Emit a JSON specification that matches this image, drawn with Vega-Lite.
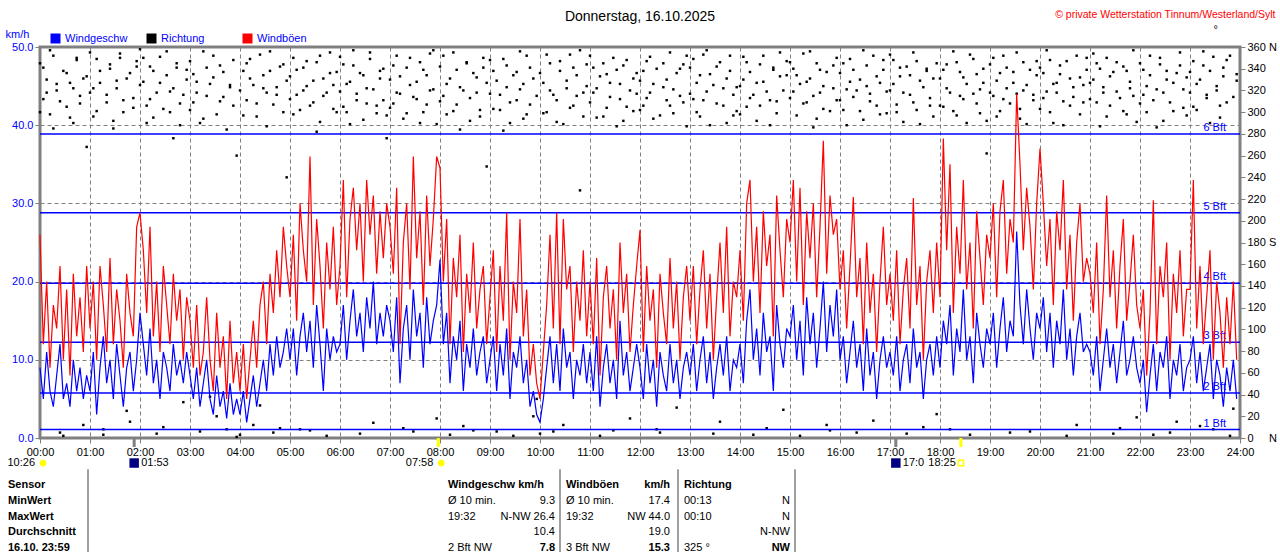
{
  "$schema": "https://vega.github.io/schema/vega-lite/v6.json",
  "width": 1200,
  "height": 391,
  "autosize": {"type": "none"},
  "padding": {"left": 40, "top": 47, "right": 40, "bottom": 114},
  "background": "white",
  "config": {
    "font": "Liberation Sans",
    "view": {"stroke": "#808080", "strokeWidth": 3},
    "text": {"font": "Liberation Sans"}
  },
  "title": {
    "text": "Donnerstag, 16.10.2025",
    "fontSize": 14,
    "fontWeight": "normal",
    "color": "black",
    "anchor": "middle",
    "frame": "group",
    "offset": 0,
    "dy": 15
  },
  "datasets": {
    "wind": [
      {"t":0,"w":9,"g":26,"d":345,"e":300},
      {"t":4,"w":5,"g":12,"d":312,"e":341},
      {"t":8,"w":11,"g":20,"d":330,"e":318},
      {"t":12,"w":6,"g":9,"d":298,"e":357},
      {"t":16,"w":4,"g":17,"d":352,"e":285},
      {"t":20,"w":8,"g":14,"d":320,"e":326},
      {"t":24,"w":12,"g":22,"d":5,"e":310},
      {"t":28,"w":5,"g":10,"d":338,"e":2},
      {"t":32,"w":7,"g":19,"d":305,"e":336},
      {"t":36,"w":4,"g":8,"d":327,"e":295},
      {"t":40,"w":10,"g":21,"d":290,"e":322},
      {"t":44,"w":6,"g":13,"d":348,"e":350},
      {"t":48,"w":9,"g":18,"d":315,"e":308},
      {"t":52,"w":5,"g":11,"d":12,"e":331},
      {"t":56,"w":8,"g":22,"d":333,"e":268},
      {"t":60,"w":6,"g":14,"d":355,"e":318},
      {"t":64,"w":11,"g":20,"d":322,"e":296},
      {"t":68,"w":3,"g":10,"d":301,"e":349},
      {"t":72,"w":9,"g":22,"d":338,"e":327},
      {"t":76,"w":13,"g":17,"d":8,"e":3},
      {"t":80,"w":7,"g":11,"d":316,"e":309},
      {"t":84,"w":10,"g":23,"d":344,"e":340},
      {"t":88,"w":5,"g":12,"d":292,"e":285},
      {"t":92,"w":12,"g":19,"d":329,"e":322},
      {"t":96,"w":8,"g":15,"d":350,"e":354},
      {"t":100,"w":4,"g":9,"d":311,"e":300},
      {"t":104,"w":9,"g":21,"d":25,"e":331},
      {"t":108,"w":11,"g":16,"d":336,"e":15},
      {"t":112,"w":6,"g":13,"d":304,"e":313},
      {"t":116,"w":10,"g":27,"d":347,"e":342},
      {"t":120,"w":16,"g":28.8,"d":358,"e":325},
      {"t":124,"w":12,"g":24,"d":328,"e":350},
      {"t":128,"w":8,"g":16,"d":306,"e":290},
      {"t":132,"w":14,"g":27,"d":342,"e":312},
      {"t":136,"w":7,"g":13,"d":295,"e":338},
      {"t":140,"w":10,"g":20,"d":318,"e":4},
      {"t":144,"w":5,"g":11,"d":351,"e":327},
      {"t":148,"w":11,"g":22,"d":10,"e":303},
      {"t":152,"w":9,"g":17,"d":334,"e":356},
      {"t":156,"w":6,"g":12,"d":300,"e":319},
      {"t":160,"w":12,"g":21,"d":322,"e":276},
      {"t":164,"w":8,"g":15,"d":345,"e":341},
      {"t":168,"w":10,"g":19,"d":288,"e":308},
      {"t":172,"w":7,"g":10,"d":316,"e":33},
      {"t":176,"w":11,"g":18,"d":339,"e":330},
      {"t":180,"w":8,"g":15,"d":302,"e":347},
      {"t":184,"w":5,"g":9,"d":335,"e":309},
      {"t":188,"w":9,"g":17,"d":318,"e":328},
      {"t":192,"w":4,"g":8,"d":6,"e":290},
      {"t":196,"w":7,"g":11,"d":294,"e":356},
      {"t":200,"w":10,"g":18,"d":341,"e":315},
      {"t":204,"w":5,"g":10,"d":326,"e":38},
      {"t":208,"w":3,"g":6,"d":352,"e":332},
      {"t":212,"w":8,"g":16,"d":20,"e":298},
      {"t":216,"w":4,"g":9,"d":310,"e":343},
      {"t":220,"w":6,"g":13,"d":337,"e":314},
      {"t":224,"w":2.5,"g":5,"d":284,"e":8},
      {"t":228,"w":7,"g":15,"d":323,"e":325},
      {"t":232,"w":3,"g":7,"d":348,"e":306},
      {"t":236,"w":5,"g":11,"d":1,"e":260},
      {"t":240,"w":3,"g":6,"d":320,"e":3},
      {"t":244,"w":6,"g":12,"d":297,"e":338},
      {"t":248,"w":2,"g":5,"d":345,"e":311},
      {"t":252,"w":5,"g":10,"d":331,"e":349},
      {"t":256,"w":8,"g":15,"d":12,"e":325},
      {"t":260,"w":4,"g":9,"d":308,"e":296},
      {"t":264,"w":7,"g":17,"d":353,"e":30},
      {"t":268,"w":10,"g":20,"d":322,"e":334},
      {"t":272,"w":6,"g":12,"d":287,"e":318},
      {"t":276,"w":12,"g":21,"d":338,"e":356},
      {"t":280,"w":8,"g":16,"d":5,"e":307},
      {"t":284,"w":13,"g":24,"d":316,"e":323},
      {"t":288,"w":9,"g":18,"d":342,"e":9},
      {"t":292,"w":11,"g":27,"d":300,"e":344},
      {"t":296,"w":14,"g":22,"d":329,"e":240},
      {"t":300,"w":10,"g":18,"d":333,"e":312},
      {"t":304,"w":14,"g":26,"d":350,"e":298},
      {"t":308,"w":8,"g":15,"d":316,"e":339},
      {"t":312,"w":13,"g":30,"d":302,"e":8},
      {"t":316,"w":16,"g":24,"d":341,"e":320},
      {"t":320,"w":11,"g":20,"d":324,"e":347},
      {"t":324,"w":15,"g":36,"d":7,"e":306},
      {"t":328,"w":9,"g":17,"d":309,"e":329},
      {"t":332,"w":17,"g":28,"d":346,"e":282},
      {"t":336,"w":12,"g":22,"d":291,"e":352},
      {"t":340,"w":6,"g":14,"d":331,"e":315},
      {"t":344,"w":14,"g":25,"d":318,"e":2},
      {"t":348,"w":10,"g":19,"d":355,"e":336},
      {"t":352,"w":13,"g":27,"d":303,"e":325},
      {"t":356,"w":11,"g":17,"d":337,"e":300},
      {"t":360,"w":12,"g":22,"d":319,"e":351},
      {"t":364,"w":17,"g":33,"d":344,"e":305},
      {"t":368,"w":10,"g":18,"d":300,"e":326},
      {"t":372,"w":15,"g":28,"d":328,"e":289},
      {"t":376,"w":19,"g":32,"d":357,"e":343},
      {"t":380,"w":13,"g":24,"d":311,"e":317},
      {"t":384,"w":16,"g":30,"d":336,"e":4},
      {"t":388,"w":11,"g":20,"d":293,"e":334},
      {"t":392,"w":18,"g":33,"d":322,"e":308},
      {"t":396,"w":14,"g":26,"d":349,"e":355},
      {"t":400,"w":20,"g":31,"d":14,"e":321},
      {"t":404,"w":12,"g":21,"d":306,"e":299},
      {"t":408,"w":16,"g":29,"d":331,"e":338},
      {"t":412,"w":13,"g":23,"d":340,"e":311},
      {"t":416,"w":17,"g":30,"d":297,"e":276},
      {"t":420,"w":15,"g":27,"d":330,"e":304},
      {"t":424,"w":11,"g":21,"d":308,"e":343},
      {"t":428,"w":18,"g":32,"d":352,"e":318},
      {"t":432,"w":7,"g":12,"d":317,"e":333},
      {"t":436,"w":14,"g":25,"d":294,"e":9},
      {"t":440,"w":17,"g":30,"d":341,"e":299},
      {"t":444,"w":10,"g":19,"d":325,"e":350},
      {"t":448,"w":19,"g":36,"d":6,"e":314},
      {"t":452,"w":13,"g":23,"d":312,"e":328},
      {"t":456,"w":16,"g":29,"d":346,"e":290},
      {"t":460,"w":9,"g":17,"d":300,"e":339},
      {"t":464,"w":18,"g":31,"d":334,"e":307},
      {"t":468,"w":12,"g":22,"d":320,"e":354},
      {"t":472,"w":15,"g":28,"d":357,"e":321},
      {"t":476,"w":17,"g":36,"d":289,"e":18},
      {"t":480,"w":22.8,"g":34.5,"d":342,"e":310},
      {"t":484,"w":12,"g":20,"d":315,"e":352},
      {"t":488,"w":16,"g":28,"d":298,"e":326},
      {"t":492,"w":7,"g":12,"d":331,"e":3},
      {"t":496,"w":13,"g":23,"d":355,"e":301},
      {"t":500,"w":10,"g":18,"d":307,"e":339},
      {"t":504,"w":15,"g":26,"d":323,"e":284},
      {"t":508,"w":6,"g":11,"d":11,"e":320},
      {"t":512,"w":12,"g":21,"d":345,"e":346},
      {"t":516,"w":9,"g":16,"d":292,"e":313},
      {"t":520,"w":14,"g":25,"d":336,"e":7},
      {"t":524,"w":8,"g":14,"d":318,"e":332},
      {"t":528,"w":11,"g":19,"d":302,"e":296},
      {"t":532,"w":13,"g":22,"d":350,"e":341},
      {"t":536,"w":7,"g":12,"d":327,"e":250},
      {"t":540,"w":10,"g":18,"d":317,"e":348},
      {"t":544,"w":13,"g":24,"d":338,"e":303},
      {"t":548,"w":6,"g":11,"d":6,"e":329},
      {"t":552,"w":12,"g":22,"d":302,"e":316},
      {"t":556,"w":8,"g":15,"d":349,"e":283},
      {"t":560,"w":14,"g":28.8,"d":323,"e":343},
      {"t":564,"w":5,"g":10,"d":290,"e":309},
      {"t":568,"w":11,"g":20,"d":334,"e":2},
      {"t":572,"w":9,"g":16,"d":311,"e":337},
      {"t":576,"w":13,"g":28,"d":356,"e":321},
      {"t":580,"w":7,"g":13,"d":326,"e":294},
      {"t":584,"w":10,"g":19,"d":298,"e":352},
      {"t":588,"w":4,"g":8,"d":341,"e":307},
      {"t":592,"w":6,"g":12,"d":20,"e":331},
      {"t":596,"w":3,"g":7,"d":315,"e":36},
      {"t":600,"w":2,"g":5,"d":4,"e":336},
      {"t":604,"w":5,"g":11,"d":327,"e":299},
      {"t":608,"w":9,"g":17,"d":300,"e":353},
      {"t":612,"w":13,"g":26,"d":345,"e":320},
      {"t":616,"w":7,"g":14,"d":316,"e":6},
      {"t":620,"w":12,"g":28.8,"d":291,"e":311},
      {"t":624,"w":6,"g":12,"d":338,"e":347},
      {"t":628,"w":14,"g":28,"d":12,"e":289},
      {"t":632,"w":9,"g":19,"d":322,"e":329},
      {"t":636,"w":11,"g":22,"d":353,"e":304},
      {"t":640,"w":5,"g":11,"d":306,"e":341},
      {"t":644,"w":10,"g":20,"d":334,"e":315},
      {"t":648,"w":8,"g":15,"d":228,"e":357},
      {"t":652,"w":12,"g":24,"d":318,"e":296},
      {"t":656,"w":7,"g":13,"d":344,"e":324},
      {"t":660,"w":11,"g":20,"d":309,"e":352},
      {"t":664,"w":6,"g":12,"d":341,"e":318},
      {"t":668,"w":13,"g":23,"d":322,"e":295},
      {"t":672,"w":4,"g":8,"d":2,"e":333},
      {"t":676,"w":9,"g":18,"d":296,"e":345},
      {"t":680,"w":12,"g":22,"d":335,"e":304},
      {"t":684,"w":7,"g":14,"d":314,"e":327},
      {"t":688,"w":10,"g":19,"d":350,"e":7},
      {"t":692,"w":5,"g":10,"d":287,"e":339},
      {"t":696,"w":15,"g":25,"d":326,"e":312},
      {"t":700,"w":8,"g":16,"d":343,"e":292},
      {"t":704,"w":11,"g":21,"d":305,"e":348},
      {"t":708,"w":6,"g":11,"d":18,"e":320},
      {"t":712,"w":9,"g":17,"d":331,"e":301},
      {"t":716,"w":12,"g":22,"d":317,"e":336},
      {"t":720,"w":9,"g":26.6,"d":329,"e":302},
      {"t":724,"w":5,"g":11,"d":306,"e":338},
      {"t":728,"w":12,"g":22,"d":347,"e":313},
      {"t":732,"w":7,"g":15,"d":318,"e":351},
      {"t":736,"w":10,"g":19,"d":294,"e":326},
      {"t":740,"w":4,"g":9,"d":340,"e":8},
      {"t":744,"w":11,"g":21,"d":5,"e":297},
      {"t":748,"w":8,"g":16,"d":323,"e":345},
      {"t":752,"w":6,"g":12,"d":311,"e":330},
      {"t":756,"w":12,"g":23,"d":355,"e":306},
      {"t":760,"w":7,"g":14,"d":299,"e":321},
      {"t":764,"w":10,"g":20,"d":336,"e":28},
      {"t":768,"w":5,"g":10,"d":315,"e":340},
      {"t":772,"w":9,"g":18,"d":344,"e":309},
      {"t":776,"w":11,"g":22,"d":287,"e":352},
      {"t":780,"w":8,"g":15,"d":341,"e":317},
      {"t":784,"w":12,"g":22,"d":312,"e":349},
      {"t":788,"w":6,"g":12,"d":327,"e":300},
      {"t":792,"w":10,"g":19,"d":296,"e":334},
      {"t":796,"w":13,"g":24,"d":353,"e":311},
      {"t":800,"w":7,"g":14,"d":319,"e":357},
      {"t":804,"w":11,"g":21,"d":335,"e":288},
      {"t":808,"w":5,"g":10,"d":4,"e":325},
      {"t":812,"w":9,"g":18,"d":308,"e":342},
      {"t":816,"w":12,"g":25,"d":346,"e":15},
      {"t":820,"w":8,"g":16,"d":322,"e":306},
      {"t":824,"w":13,"g":27,"d":290,"e":331},
      {"t":828,"w":6,"g":13,"d":338,"e":352},
      {"t":832,"w":10,"g":20,"d":316,"e":297},
      {"t":836,"w":9,"g":18,"d":301,"e":323},
      {"t":840,"w":12,"g":24,"d":324,"e":298},
      {"t":844,"w":7,"g":15,"d":351,"e":330},
      {"t":848,"w":15,"g":30,"d":305,"e":346},
      {"t":852,"w":19,"g":33,"d":337,"e":313},
      {"t":856,"w":10,"g":20,"d":316,"e":3},
      {"t":860,"w":14,"g":27,"d":292,"e":327},
      {"t":864,"w":8,"g":16,"d":344,"e":306},
      {"t":868,"w":16,"g":29,"d":328,"e":352},
      {"t":872,"w":11,"g":22,"d":9,"e":319},
      {"t":876,"w":13,"g":26,"d":311,"e":288},
      {"t":880,"w":6,"g":13,"d":339,"e":341},
      {"t":884,"w":17,"g":31,"d":299,"e":310},
      {"t":888,"w":12,"g":24,"d":355,"e":333},
      {"t":892,"w":9,"g":18,"d":320,"e":26},
      {"t":896,"w":14,"g":28,"d":334,"e":347},
      {"t":900,"w":13,"g":25,"d":313,"e":346},
      {"t":904,"w":17,"g":33,"d":340,"e":319},
      {"t":908,"w":10,"g":20,"d":297,"e":334},
      {"t":912,"w":15,"g":32,"d":326,"e":2},
      {"t":916,"w":8,"g":17,"d":354,"e":308},
      {"t":920,"w":18,"g":29,"d":309,"e":328},
      {"t":924,"w":12,"g":23,"d":331,"e":356},
      {"t":928,"w":16,"g":30,"d":286,"e":315},
      {"t":932,"w":9,"g":18,"d":345,"e":294},
      {"t":936,"w":14,"g":27,"d":318,"e":339},
      {"t":940,"w":20,"g":38,"d":303,"e":324},
      {"t":944,"w":11,"g":21,"d":337,"e":12},
      {"t":948,"w":17,"g":31,"d":7,"e":301},
      {"t":952,"w":13,"g":26,"d":322,"e":343},
      {"t":956,"w":19,"g":28,"d":350,"e":311},
      {"t":960,"w":10,"g":19,"d":336,"e":311},
      {"t":964,"w":13,"g":24,"d":302,"e":345},
      {"t":968,"w":7,"g":14,"d":321,"e":288},
      {"t":972,"w":11,"g":22,"d":349,"e":328},
      {"t":976,"w":15,"g":30.8,"d":314,"e":339},
      {"t":980,"w":9,"g":18,"d":5,"e":320},
      {"t":984,"w":12,"g":23,"d":330,"e":301},
      {"t":988,"w":6,"g":12,"d":293,"e":357},
      {"t":992,"w":14,"g":25,"d":343,"e":324},
      {"t":996,"w":8,"g":16,"d":317,"e":310},
      {"t":1000,"w":11,"g":21,"d":352,"e":16},
      {"t":1004,"w":5,"g":11,"d":306,"e":333},
      {"t":1008,"w":10,"g":20,"d":327,"e":298},
      {"t":1012,"w":13,"g":27,"d":339,"e":348},
      {"t":1016,"w":9,"g":17,"d":299,"e":319},
      {"t":1020,"w":11,"g":21,"d":320,"e":353},
      {"t":1024,"w":8,"g":15,"d":348,"e":326},
      {"t":1028,"w":13,"g":24,"d":307,"e":300},
      {"t":1032,"w":6,"g":12,"d":333,"e":341},
      {"t":1036,"w":10,"g":19,"d":291,"e":318},
      {"t":1040,"w":12,"g":23,"d":342,"e":4},
      {"t":1044,"w":7,"g":14,"d":316,"e":334},
      {"t":1048,"w":14,"g":30.7,"d":355,"e":309},
      {"t":1052,"w":9,"g":17,"d":302,"e":347},
      {"t":1056,"w":11,"g":22,"d":329,"e":289},
      {"t":1060,"w":5,"g":10,"d":10,"e":323},
      {"t":1064,"w":10,"g":20,"d":338,"e":340},
      {"t":1068,"w":12,"g":24,"d":313,"e":306},
      {"t":1072,"w":8,"g":16,"d":296,"e":331},
      {"t":1076,"w":13,"g":25,"d":345,"e":22},
      {"t":1080,"w":9,"g":18,"d":331,"e":306},
      {"t":1084,"w":15,"g":38.3,"d":305,"e":339},
      {"t":1088,"w":12,"g":24,"d":344,"e":322},
      {"t":1092,"w":17,"g":35,"d":318,"e":8},
      {"t":1096,"w":8,"g":16,"d":356,"e":301},
      {"t":1100,"w":14,"g":27,"d":297,"e":346},
      {"t":1104,"w":11,"g":21,"d":337,"e":315},
      {"t":1108,"w":19,"g":33,"d":312,"e":332},
      {"t":1112,"w":10,"g":19,"d":326,"e":290},
      {"t":1116,"w":13,"g":25,"d":3,"e":353},
      {"t":1120,"w":7,"g":14,"d":349,"e":317},
      {"t":1124,"w":16,"g":29,"d":308,"e":335},
      {"t":1128,"w":12,"g":23,"d":321,"e":299},
      {"t":1132,"w":9,"g":17,"d":340,"e":327},
      {"t":1136,"w":14,"g":26,"d":292,"e":262},
      {"t":1140,"w":12,"g":23,"d":344,"e":318},
      {"t":1144,"w":16,"g":30,"d":315,"e":350},
      {"t":1148,"w":9,"g":18,"d":329,"e":296},
      {"t":1152,"w":14,"g":29,"d":301,"e":336},
      {"t":1156,"w":18,"g":33,"d":352,"e":312},
      {"t":1160,"w":11,"g":21,"d":322,"e":341},
      {"t":1164,"w":15,"g":28,"d":308,"e":5},
      {"t":1168,"w":13,"g":25,"d":337,"e":327},
      {"t":1172,"w":26.4,"g":44,"d":317,"e":355},
      {"t":1176,"w":17,"g":35,"d":294,"e":303},
      {"t":1180,"w":12,"g":24,"d":346,"e":320},
      {"t":1184,"w":19,"g":32,"d":325,"e":289},
      {"t":1188,"w":14,"g":27,"d":6,"e":339},
      {"t":1192,"w":10,"g":19,"d":311,"e":316},
      {"t":1196,"w":16,"g":30,"d":334,"e":347},
      {"t":1200,"w":14,"g":37,"d":303,"e":341},
      {"t":1204,"w":18,"g":30,"d":336,"e":313},
      {"t":1208,"w":11,"g":22,"d":319,"e":357},
      {"t":1212,"w":16,"g":28,"d":348,"e":300},
      {"t":1216,"w":9,"g":17,"d":290,"e":326},
      {"t":1220,"w":15,"g":29,"d":327,"e":318},
      {"t":1224,"w":12,"g":24,"d":343,"e":335},
      {"t":1228,"w":19,"g":33,"d":310,"e":288},
      {"t":1232,"w":10,"g":19,"d":2,"e":347},
      {"t":1236,"w":14,"g":26,"d":331,"e":306},
      {"t":1240,"w":8,"g":15,"d":314,"e":323},
      {"t":1244,"w":13,"g":25,"d":352,"e":12},
      {"t":1248,"w":16,"g":30,"d":298,"e":332},
      {"t":1252,"w":11,"g":20,"d":325,"e":309},
      {"t":1256,"w":12,"g":23,"d":339,"e":350},
      {"t":1260,"w":11,"g":21,"d":327,"e":312},
      {"t":1264,"w":8,"g":16,"d":354,"e":330},
      {"t":1268,"w":13,"g":25,"d":309,"e":345},
      {"t":1272,"w":6,"g":12,"d":340,"e":287},
      {"t":1276,"w":10,"g":19,"d":318,"e":323},
      {"t":1280,"w":14,"g":31,"d":296,"e":350},
      {"t":1284,"w":9,"g":18,"d":333,"e":306},
      {"t":1288,"w":12,"g":24,"d":4,"e":337},
      {"t":1292,"w":7,"g":14,"d":346,"e":319},
      {"t":1296,"w":11,"g":22,"d":313,"e":9},
      {"t":1300,"w":15,"g":28,"d":301,"e":342},
      {"t":1304,"w":8,"g":15,"d":338,"e":298},
      {"t":1308,"w":10,"g":20,"d":322,"e":328},
      {"t":1312,"w":13,"g":26,"d":357,"e":315},
      {"t":1316,"w":9,"g":17,"d":291,"e":19},
      {"t":1320,"w":7,"g":14,"d":345,"e":308},
      {"t":1324,"w":10,"g":19,"d":316,"e":339},
      {"t":1328,"w":3.3,"g":8,"d":300,"e":324},
      {"t":1332,"w":8,"g":16,"d":334,"e":352},
      {"t":1336,"w":12,"g":30.4,"d":3,"e":311},
      {"t":1340,"w":6,"g":12,"d":321,"e":286},
      {"t":1344,"w":11,"g":22,"d":350,"e":344},
      {"t":1348,"w":9,"g":18,"d":292,"e":318},
      {"t":1352,"w":13,"g":25,"d":338,"e":330},
      {"t":1356,"w":5,"g":10,"d":309,"e":5},
      {"t":1360,"w":10,"g":21,"d":327,"e":301},
      {"t":1364,"w":8,"g":16,"d":15,"e":336},
      {"t":1368,"w":12,"g":24,"d":343,"e":355},
      {"t":1372,"w":6,"g":13,"d":304,"e":321},
      {"t":1376,"w":9,"g":19,"d":332,"e":297},
      {"t":1380,"w":10,"g":19,"d":318,"e":337},
      {"t":1384,"w":13,"g":33,"d":347,"e":305},
      {"t":1388,"w":7,"g":14,"d":302,"e":326},
      {"t":1392,"w":11,"g":22,"d":330,"e":11},
      {"t":1396,"w":6,"g":12,"d":356,"e":343},
      {"t":1400,"w":9,"g":18,"d":313,"e":316},
      {"t":1404,"w":12,"g":24,"d":338,"e":290},
      {"t":1408,"w":5,"g":10,"d":8,"e":351},
      {"t":1412,"w":10,"g":20,"d":324,"e":320},
      {"t":1416,"w":8,"g":16,"d":295,"e":306},
      {"t":1420,"w":4,"g":9,"d":341,"e":333},
      {"t":1424,"w":9,"g":18,"d":309,"e":348},
      {"t":1428,"w":6,"g":12,"d":352,"e":2},
      {"t":1432,"w":10,"g":20,"d":27,"e":314},
      {"t":1436,"w":5,"g":10,"d":335,"e":329}
    ],
    "bft": [
      {"v":1.08,"lab":"1 Bft"},
      {"v":5.76,"lab":"2 Bft"},
      {"v":12.24,"lab":"3 Bft"},
      {"v":19.8,"lab":"4 Bft"},
      {"v":28.8,"lab":"5 Bft"},
      {"v":38.88,"lab":"6 Bft"}
    ],
    "events": [
      {"t":0,"lab":"10:26","k":"day"},
      {"t":113,"lab":"01:53","k":"moon"},
      {"t":478,"lab":"07:58","k":"rise"},
      {"t":1027,"lab":"17:0","k":"moon"},
      {"t":1105,"lab":"18:25","k":"set"}
    ],
    "seps": [{"c":0.5},{"c":2.5},{"c":4.5},{"c":6.5}],
    "table": [
      {"r":0,"c":0,"s":"Sensor"},
      {"r":1,"c":0,"s":"MinWert"},
      {"r":2,"c":0,"s":"MaxWert"},
      {"r":3,"c":0,"s":"Durchschnitt"},
      {"r":4,"c":0,"s":"16.10. 23:59"},
      {"r":0,"c":1,"s":"Windgeschw km/h"},
      {"r":1,"c":1,"s":"Ø 10 min."},
      {"r":2,"c":1,"s":"19:32"},
      {"r":4,"c":1,"s":"2 Bft NW"},
      {"r":1,"c":2,"s":"9.3"},
      {"r":2,"c":2,"s":"N-NW 26.4"},
      {"r":3,"c":2,"s":"10.4"},
      {"r":4,"c":2,"s":"7.8"},
      {"r":0,"c":3,"s":"Windböen"},
      {"r":1,"c":3,"s":"Ø 10 min."},
      {"r":2,"c":3,"s":"19:32"},
      {"r":4,"c":3,"s":"3 Bft NW"},
      {"r":0,"c":4,"s":"km/h"},
      {"r":1,"c":4,"s":"17.4"},
      {"r":2,"c":4,"s":"NW 44.0"},
      {"r":3,"c":4,"s":"19.0"},
      {"r":4,"c":4,"s":"15.3"},
      {"r":0,"c":5,"s":"Richtung"},
      {"r":1,"c":5,"s":"00:13"},
      {"r":2,"c":5,"s":"00:10"},
      {"r":4,"c":5,"s":"325 °"},
      {"r":1,"c":6,"s":"N"},
      {"r":2,"c":6,"s":"N"},
      {"r":3,"c":6,"s":"N-NW"},
      {"r":4,"c":6,"s":"NW"}
    ]
  },
  "layer": [
    {
      "data": {"name": "wind"},
      "transform": [{"fold": ["d", "e"], "as": ["k", "deg"]}],
      "mark": {"type": "square", "size": 6, "color": "black", "opacity": 1},
      "encoding": {
        "x": {"field": "t", "type": "quantitative", "scale": {"domain": [0, 1440], "nice": false, "zero": false}, "axis": null},
        "y": {
          "field": "deg",
          "type": "quantitative",
          "scale": {"domain": [0, 360], "nice": false},
          "axis": {
            "orient": "right",
            "values": [0,20,40,60,80,100,120,140,160,180,200,220,240,260,280,300,320,340,360],
            "labelExpr": "datum.value == 360 ? '360 N' : datum.value == 180 ? '180 S' : datum.value == 0 ? '0\u00a0\u00a0\u00a0\u00a0\u00a0N' : datum.label",
            "grid": false,
            "domain": false,
            "tickColor": "#808080",
            "tickSize": 5,
            "labelColor": "black",
            "labelFontSize": 11,
            "labelPadding": 2,
            "labelFlush": false,
            "labelOverlap": false,
            "title": "© private Wetterstation Tinnum/Westerland/Sylt",
            "titleColor": "#ff0000",
            "titleFontSize": 10.5,
            "titleFontWeight": "normal",
            "titleAngle": 0,
            "titleAlign": "right",
            "titleBaseline": "alphabetic",
            "titleX": 35,
            "titleY": -30
          }
        }
      }
    },
    {
      "layer": [
        {
          "data": {"name": "bft"},
          "mark": {"type": "rule", "color": "#0000ff", "strokeWidth": 1.5},
          "encoding": {
            "y": {
              "field": "v",
              "type": "quantitative",
              "scale": {"domain": [0, 50], "nice": false},
              "axis": {
                "values": [0,5,10,15,20,25,30,35,40,45,50],
                "format": ".1f",
                "grid": true,
                "gridDash": [4, 3],
                "gridColor": "#808080",
                "domain": false,
                "tickColor": "#808080",
                "tickSize": 5,
                "labelColor": "#0000ff",
                "labelFontSize": 11,
                "labelPadding": 2,
                "labelFlush": false,
                "title": "km/h",
                "titleColor": "#0000ff",
                "titleFontSize": 11,
                "titleFontWeight": "normal",
                "titleAngle": 0,
                "titleAlign": "left",
                "titleBaseline": "alphabetic",
                "titleX": -35,
                "titleY": -10
              }
            }
          }
        },
        {
          "data": {"name": "bft"},
          "mark": {"type": "text", "align": "right", "baseline": "alphabetic", "dx": -14, "dy": -3, "color": "#0000ff", "fontSize": 11},
          "encoding": {
            "x": {"datum": 1440, "type": "quantitative"},
            "y": {"field": "v", "type": "quantitative"},
            "text": {"field": "lab"}
          }
        },
        {
          "data": {"name": "wind"},
          "transform": [{"fold": ["g", "w"], "as": ["key", "kmh"]}],
          "mark": {"type": "line", "strokeWidth": 1.2},
          "encoding": {
            "x": {
              "field": "t",
              "type": "quantitative",
              "scale": {"domain": [0, 1440], "nice": false, "zero": false},
              "axis": {
                "values": [0,60,120,180,240,300,360,420,480,540,600,660,720,780,840,900,960,1020,1080,1140,1200,1260,1320,1380,1440],
                "labelExpr": "(datum.value < 600 ? '0' : '') + (datum.value / 60) + ':00'",
                "grid": true,
                "gridDash": [4, 3],
                "gridColor": "#808080",
                "domain": false,
                "tickColor": "#808080",
                "tickSize": 5,
                "labelColor": "black",
                "labelFontSize": 11,
                "labelPadding": 3,
                "labelFlush": false,
                "labelOverlap": false,
                "title": "°",
                "titleFontSize": 11,
                "titleFontWeight": "normal",
                "titleColor": "black",
                "titleAngle": 0,
                "titleAlign": "left",
                "titleBaseline": "alphabetic",
                "titleX": 1173,
                "titleY": -406
              }
            },
            "y": {"field": "kmh", "type": "quantitative"},
            "color": {
              "field": "key",
              "type": "nominal",
              "scale": {"domain": ["w", "d", "g"], "range": ["#0000ff", "#000000", "#ff0000"]},
              "legend": {
                "orient": "none",
                "legendX": 10,
                "legendY": -14,
                "direction": "horizontal",
                "columns": 3,
                "gridAlign": "all",
                "columnPadding": 11,
                "padding": 0,
                "title": null,
                "symbolType": "square",
                "symbolSize": 25,
                "symbolStrokeWidth": 5,
                "labelFontSize": 11,
                "labelColor": "#0000ff",
                "labelOffset": 4,
                "labelExpr": "datum.label == 'w' ? 'Windgeschw' : datum.label == 'd' ? 'Richtung' : 'Windböen'"
              }
            }
          }
        },
        {
          "data": {"name": "events"},
          "transform": [{"filter": "datum.k != 'day'"}],
          "mark": {"type": "rule", "strokeWidth": 3},
          "encoding": {
            "x": {"field": "t", "type": "quantitative"},
            "y": {"datum": 0},
            "y2": {"datum": -1.15},
            "color": {"condition": {"test": "datum.k == 'moon'", "value": "#808080"}, "value": "#ffff00"}
          }
        },
        {
          "data": {"name": "events"},
          "transform": [{"filter": "datum.k == 'moon'"}],
          "mark": {"type": "text", "align": "left", "baseline": "middle", "dx": 7, "fontSize": 11, "color": "black"},
          "encoding": {
            "x": {"field": "t", "type": "quantitative"},
            "y": {"datum": -3.2},
            "text": {"field": "lab"}
          }
        },
        {
          "data": {"name": "events"},
          "transform": [{"filter": "datum.k != 'moon'"}],
          "mark": {"type": "text", "align": "right", "baseline": "middle", "dx": -5, "fontSize": 11, "color": "black"},
          "encoding": {
            "x": {"field": "t", "type": "quantitative"},
            "y": {"datum": -3.2},
            "text": {"field": "lab"}
          }
        },
        {
          "data": {"name": "events"},
          "transform": [{"filter": "datum.k == 'moon'"}],
          "mark": {"type": "point", "shape": "square", "filled": true, "size": 90, "color": "#000080", "opacity": 1},
          "encoding": {
            "x": {"field": "t", "type": "quantitative"},
            "y": {"datum": -3.2}
          }
        },
        {
          "data": {"name": "events"},
          "transform": [{"filter": "datum.k == 'rise' || datum.k == 'day'"}],
          "mark": {"type": "point", "shape": "circle", "filled": true, "size": 45, "color": "#ffff00", "opacity": 1, "xOffset": 3},
          "encoding": {
            "x": {"field": "t", "type": "quantitative"},
            "y": {"datum": -3.2}
          }
        },
        {
          "data": {"name": "events"},
          "transform": [{"filter": "datum.k == 'set'"}],
          "mark": {"type": "point", "shape": "square", "filled": false, "size": 30, "color": "#ffff00", "strokeWidth": 1.5, "opacity": 1},
          "encoding": {
            "x": {"field": "t", "type": "quantitative"},
            "y": {"datum": -3.2}
          }
        }
      ]
    },
    {
      "layer": [
        {
          "data": {"name": "seps"},
          "mark": {"type": "rule", "color": "#a0a0a0", "strokeWidth": 2},
          "encoding": {
            "x": {
              "field": "c",
              "type": "quantitative",
              "scale": {"domain": [0, 0.5, 1, 2, 2.5, 3, 4, 4.5, 5, 6, 6.5], "range": [-32, 48, 408, 515, 520, 526, 630, 638, 644, 750, 755], "nice": false, "zero": false},
              "axis": null
            },
            "y": {"datum": -1, "type": "quantitative", "scale": {"domain": [0, 4], "range": [438, 501.2], "nice": false, "zero": false}, "axis": null},
            "y2": {"datum": 6}
          }
        },
        {
          "data": {"name": "table"},
          "transform": [{"filter": "datum.c % 2 == 1 && datum.r > 0"}],
          "mark": {"type": "text", "align": "left", "baseline": "middle", "fontSize": 11, "color": "black"},
          "encoding": {
            "x": {"field": "c", "type": "quantitative"},
            "y": {"field": "r", "type": "quantitative"},
            "text": {"field": "s"}
          }
        },
        {
          "data": {"name": "table"},
          "transform": [{"filter": "datum.c == 0 || (datum.c % 2 == 1 && datum.r == 0)"}],
          "mark": {"type": "text", "align": "left", "baseline": "middle", "fontSize": 11, "fontWeight": "bold", "color": "black"},
          "encoding": {
            "x": {"field": "c", "type": "quantitative"},
            "y": {"field": "r", "type": "quantitative"},
            "text": {"field": "s"}
          }
        },
        {
          "data": {"name": "table"},
          "transform": [{"filter": "datum.c > 0 && datum.c % 2 == 0 && datum.r > 0 && datum.r < 4"}],
          "mark": {"type": "text", "align": "right", "baseline": "middle", "fontSize": 11, "color": "black"},
          "encoding": {
            "x": {"field": "c", "type": "quantitative"},
            "y": {"field": "r", "type": "quantitative"},
            "text": {"field": "s"}
          }
        },
        {
          "data": {"name": "table"},
          "transform": [{"filter": "datum.c > 0 && datum.c % 2 == 0 && (datum.r == 0 || datum.r == 4)"}],
          "mark": {"type": "text", "align": "right", "baseline": "middle", "fontSize": 11, "fontWeight": "bold", "color": "black"},
          "encoding": {
            "x": {"field": "c", "type": "quantitative"},
            "y": {"field": "r", "type": "quantitative"},
            "text": {"field": "s"}
          }
        }
      ]
    }
  ],
  "resolve": {"scale": {"x": "independent", "y": "independent"}}
}
